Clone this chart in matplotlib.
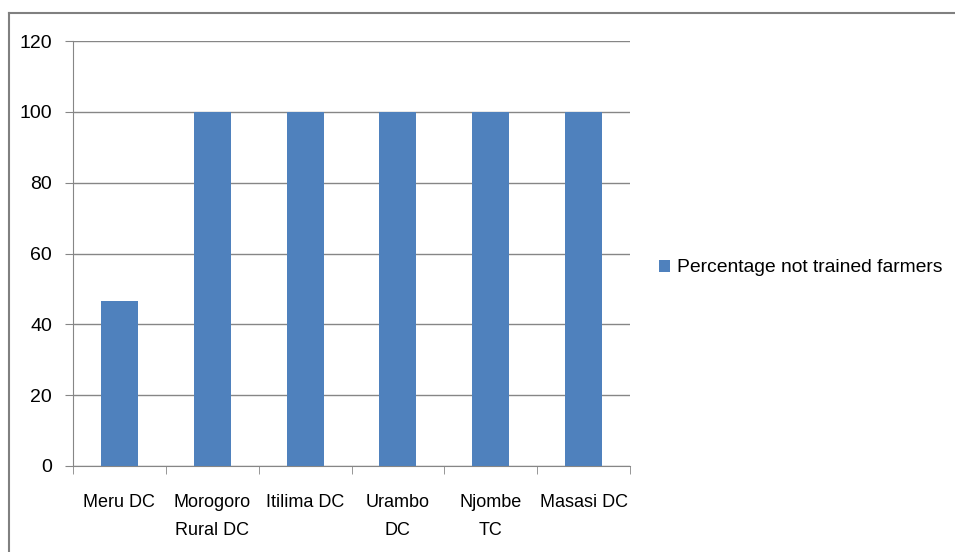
import matplotlib.pyplot as plt
from matplotlib.lines import Line2D

districts = ["Meru DC", "Morogoro\nRural DC", "Itilima DC", "Urambo\nDC", "Njombe\nTC", "Masasi DC"]
pct_not_trained = [46.7, 100, 100, 100, 100, 100]
series_name = "Percentage not trained farmers"
y_ticks = [0, 20, 40, 60, 80, 100, 120]

plt.rcParams['font.family'] = ['Liberation Sans', 'DejaVu Sans']

fig = plt.figure(figsize=(9.55, 5.52), dpi=100)
ax = fig.add_axes([73 / 955, 86 / 552, 557 / 955, 425 / 552])

grid_color = "#868686"
x = list(range(len(districts)))
bars = ax.bar(x, pct_not_trained, width=0.4, color="#4F81BD", zorder=3, label=series_name)

ax.set_xlim(-0.5, len(districts) - 0.5)
ax.set_ylim(0, 120)
ax.set_yticks(y_ticks)
ax.yaxis.grid(True, color=grid_color, linewidth=1)
ax.set_axisbelow(True)

# category labels in the middle, tick marks on the boundaries
ax.set_xticks(x)
ax.set_xticklabels(districts, fontsize=13, linespacing=1.85)
ax.tick_params(axis="x", which="major", length=0, pad=20)
ax.set_xticks([i - 0.5 for i in range(len(districts) + 1)], minor=True)
ax.tick_params(axis="x", which="minor", length=6, color=grid_color, direction="out")
ax.tick_params(axis="y", length=6, color=grid_color, labelsize=14, pad=9)

for side in ["top", "right"]:
    ax.spines[side].set_visible(False)
ax.spines["left"].set_color(grid_color)
ax.spines["bottom"].set_color(grid_color)

fig.legend(handles=[bars], labels=[series_name], loc="center left",
           bbox_to_anchor=(645 / 955, 1 - 268 / 552), frameon=False, borderpad=0.2,
           fontsize=13.9, handlelength=0.6, handleheight=0.6, handletextpad=0.35)

# outer chart border (top and left edges)
border = "#808080"
fig.add_artist(Line2D([9 / 955, 1], [1 - 13 / 552] * 2, color=border, linewidth=1.5))
fig.add_artist(Line2D([9 / 955] * 2, [0, 1 - 13 / 552], color=border, linewidth=1.5))

fig.savefig("out.png", dpi=100)
